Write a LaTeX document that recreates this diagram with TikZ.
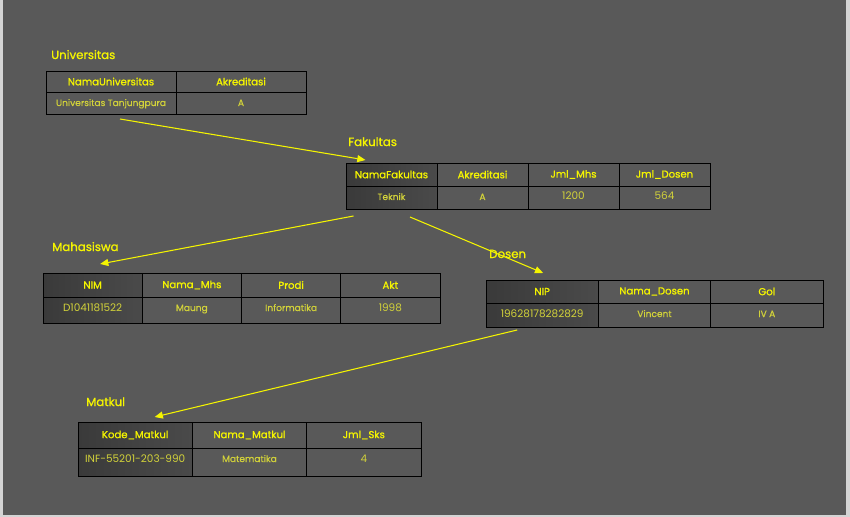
\documentclass[tikz,border=0pt]{standalone}
\usepackage{fontspec}
\setmainfont{Poppins}
\newfontfamily\headfont[FakeBold=1.1]{Poppins}
\newfontfamily\bodyfont[FakeBold=0.5]{Poppins}
\newfontfamily\digitfont{Poppins}
\usepackage{tikz}
\usetikzlibrary{arrows.meta}
\definecolor{bgdark}{HTML}{595959}
\definecolor{bgedge}{HTML}{D4D4D4}
\definecolor{keydark}{HTML}{3A3A3A}
\definecolor{keylight}{HTML}{4A4A4A}
\definecolor{hdyellow}{HTML}{F5F500}
\definecolor{bdyellow}{HTML}{D2D23A}
\newcommand{\pxu}{0.85}
\newcommand{\nm}[1]{{\digitfont\fontsize{8.9}{9}\selectfont #1}}
% one entity table: name, left x, top y, column width, head height, body height, first-column style, cells
\newcommand{\entity}[8]{%
  \foreach [count=\i] \h/\v in {#8} {
    \pgfmathsetmacro\cx{#2+(\i-1)*#4}
    \pgfmathsetmacro\cw{#4*\pxu}
    \pgfmathsetmacro\hh{#5*\pxu}
    \pgfmathsetmacro\bh{(#6-14)*\pxu}
    \ifnum\i=1 \def\cstyle{#7}\else\def\cstyle{plaincell}\fi
    \node[cell, \cstyle, head, minimum width=\cw pt, minimum height=\hh pt] (#1-h\i) at (\cx,#3) {\h};
    \node[cell, \cstyle, body, minimum width=\cw pt, text depth=\bh pt] (#1-b\i) at (#1-h\i.south west) {\v};
  }%
}
\tikzset{
  cell/.style={draw=black, line width=0.8pt, anchor=north west, inner sep=0pt, outer sep=0pt},
  plaincell/.style={},
  keycell/.style={left color=keydark, right color=keylight},
  head/.style={text=hdyellow, font=\headfont\fontsize{8.6}{9}\selectfont},
  body/.style={text=bdyellow, font=\bodyfont\fontsize{7.7}{8}\selectfont, text height=14*\pxu pt},
  title/.style={text=hdyellow, font=\headfont\fontsize{10}{12}\selectfont, anchor=base west, inner sep=0pt},
  link/.style={draw=hdyellow, line width=0.9pt, -{Triangle[length=7pt,width=6pt]}}
}
\begin{document}
\begin{tikzpicture}[x=0.85pt, y=-0.85pt]
  \useasboundingbox (0,0) rectangle (850,517);
  \fill[bgedge] (0,0) rectangle (850,517);
  \fill[bgdark] (3,0) rectangle (846,515);

  \node[title] (univ) at (51,59) {Universitas};
  \entity{univ}{46}{71}{130}{21}{22}{plaincell}{NamaUniversitas/Universitas Tanjungpura, Akreditasi/A}

  \node[title] (fak) at (348,146) {Fakultas};
  \entity{fak}{346}{163}{91}{23}{23}{keycell}{NamaFakultas/Teknik, Akreditasi/A, Jml\_Mhs/\nm{1200}, Jml\_Dosen/\nm{564}}

  \node[title] (mhs) at (52,251) {Mahasiswa};
  \entity{mhs}{43}{273}{99.25}{24}{26}{keycell}{NIM/\nm{D1041181522}, Nama\_Mhs/Maung, Prodi/Informatika, Akt/\nm{1998}}

  \node[title] (dos) at (489,258) {Dosen};
  \entity{dos}{486}{280}{112.33}{23}{24}{keycell}{NIP/\nm{19628178282829}, Nama\_Dosen/Vincent, Gol/IV A}

  \node[title] (mat) at (86,406) {Matkul};
  \entity{mat}{78}{422}{114.33}{26}{28}{keycell}{Kode\_Matkul/\nm{INF-55201-203-990}, Nama\_Matkul/Matematika, Jml\_Sks/\nm{4}}

  % relations
  \draw[link] ([shift={(9,5)}]univ-b1.south) -- ([shift={(-26,-3)}]fak-h1.north);
  \draw[link] ([shift={(-38,7)}]fak-b1.south) -- ([shift={(7.5,-9)}]mhs-h1.north);
  \draw[link] ([shift={(18.5,8)}]fak-b1.south) -- ([shift={(1,-7)}]dos-h1.north);
  \draw[link] ([shift={(-25,3)}]dos-b1.south) -- ([shift={(19.5,-5)}]mat-h1.north);
\end{tikzpicture}
\end{document}
